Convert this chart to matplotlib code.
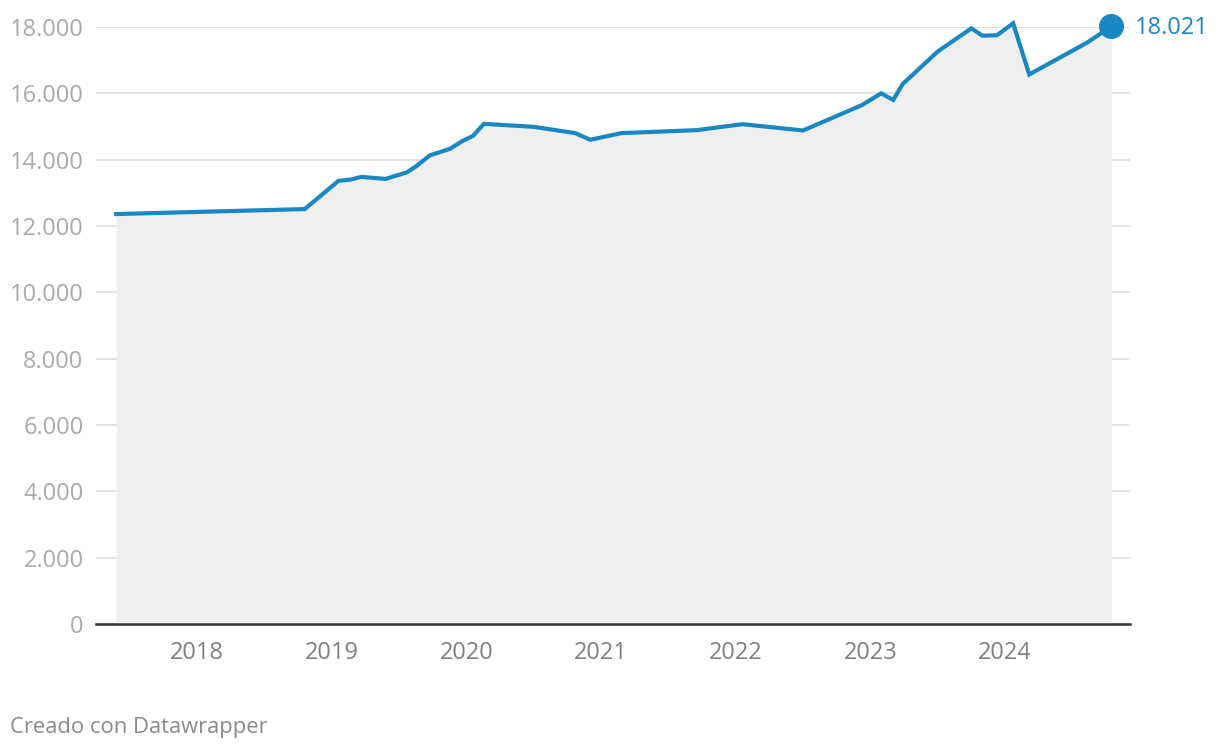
import matplotlib
matplotlib.use("Agg")
from matplotlib import pyplot as plt

plt.rcParams['font.family'] = ['Open Sans', 'DejaVu Sans']

# fechas en años decimales y valores
dates = [2017.40, 2018.80, 2019.05, 2019.14, 2019.22, 2019.40, 2019.56, 2019.63,
         2019.73, 2019.88, 2019.97, 2020.05, 2020.13, 2020.50, 2020.81, 2020.92,
         2021.15, 2021.71, 2022.05, 2022.50, 2022.94, 2023.08, 2023.17, 2023.24,
         2023.50, 2023.75, 2023.83, 2023.94, 2024.06, 2024.18, 2024.61, 2024.79]
values = [12360, 12510, 13360, 13400, 13480, 13420, 13620, 13810,
          14130, 14330, 14560, 14720, 15080, 14990, 14800, 14600,
          14800, 14890, 15070, 14880, 15650, 16000, 15800, 16280,
          17260, 17960, 17740, 17750, 18110, 16570, 17530, 18021]

years = [2018, 2019, 2020, 2021, 2022, 2023, 2024]
yticks = [0, 2000, 4000, 6000, 8000, 10000, 12000, 14000, 16000, 18000]
last_label = "18.021"

blue = '#1a87c2'

fig = plt.figure(figsize=(12.2, 7.52), dpi=100)
ax = fig.add_axes([96 / 1220, 1 - 624 / 752, (1130 - 96) / 1220, (624 - 27) / 752])

ax.fill_between(dates, values, 0, color='#efefef', lw=0, zorder=1)
ax.plot(dates, values, color=blue, lw=3, solid_joinstyle='miter', zorder=3, clip_on=False)
ax.plot(dates[-1], values[-1], 'o', color=blue, ms=17, zorder=4, clip_on=False)
ax.annotate(last_label, (dates[-1], values[-1]), xytext=(17, -1), textcoords='offset points',
            color=blue, fontsize=17, va='center', ha='left', annotation_clip=False)

ax.set_xlim(2017.25, 2024.928)
ax.set_ylim(0, 18000)

ax.set_yticks(yticks)
ax.set_yticklabels(['{:,}'.format(v).replace(',', '.') for v in yticks])
ax.set_xticks(years)
ax.set_xticklabels([str(y) for y in years])
ax.yaxis.grid(True, color='#e0e0e0', lw=1.3, zorder=0)
ax.set_axisbelow(True)

for s in ['top', 'right', 'left']:
    ax.spines[s].set_visible(False)
ax.spines['bottom'].set_color('#333333')
ax.spines['bottom'].set_linewidth(1.8)
ax.spines['bottom'].set_zorder(5)

ax.tick_params(axis='y', length=0, pad=9, labelsize=17, labelcolor='#aaaaaa')
ax.tick_params(axis='x', length=0, pad=12.5, labelsize=17, labelcolor='#808080')

fig.text(10 / 1220, 1 - 728 / 752, 'Creado con Datawrapper', fontsize=15.8,
         color='#8a8a8a', va='center', ha='left')

fig.savefig('out.png', dpi=100)
